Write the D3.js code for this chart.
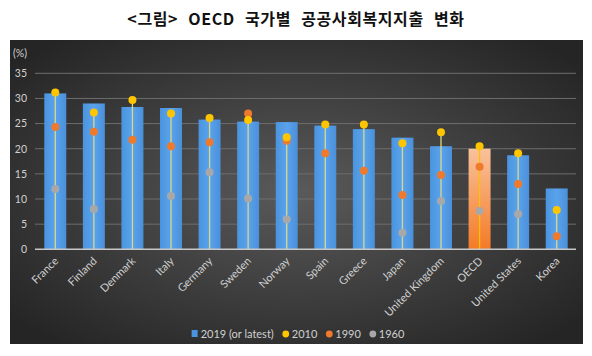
<!DOCTYPE html>
<html><head><meta charset="utf-8">
<script src="https://cdn.jsdelivr.net/npm/d3@7"></script>
<style>body{margin:0;background:#fff}svg{display:block}</style>
</head><body><svg id="c" width="592" height="356"></svg>
<script>
const categories = ["France","Finland","Denmark","Italy","Germany","Sweden","Norway","Spain","Greece","Japan","United Kingdom","OECD","United States","Korea"];
const v2019 = [31.0,29.0,28.3,28.1,25.8,25.4,25.3,24.6,23.9,22.2,20.5,20.0,18.7,12.1];
const v2010 = [31.2,27.2,29.7,27.0,26.1,25.7,22.3,24.8,24.8,21.1,23.3,20.5,19.1,7.8];
const v1990 = [24.3,23.4,21.8,20.5,21.3,27.0,21.6,19.1,15.6,10.8,14.8,16.4,13.0,2.6];
const v1960 = [12.0,8.0,null,10.6,15.3,10.1,6.0,null,null,3.3,9.6,7.6,7.0,null];
const yTicks = [0,5,10,15,20,25,30,35];
const legendLabels = ["2019 (or latest)","2010","1990","1960"];

const svg = d3.select("#c");
const defs = svg.append("defs");
const bg = defs.append("radialGradient").attr("id","bg").attr("cx","50%").attr("cy","50%").attr("r","65%");
bg.append("stop").attr("offset","0%").attr("stop-color","#5a5a5a");
bg.append("stop").attr("offset","100%").attr("stop-color","#252525");
const gb = defs.append("linearGradient").attr("id","gb").attr("x1",0).attr("x2",1).attr("y1",0).attr("y2",0);
gb.append("stop").attr("offset","0%").attr("stop-color","#4a93de");
gb.append("stop").attr("offset","50%").attr("stop-color","#5aa3ec");
gb.append("stop").attr("offset","100%").attr("stop-color","#4a8fd9");
const go = defs.append("linearGradient").attr("id","go").attr("x1",0).attr("x2",0).attr("y1",0).attr("y2",1);
go.append("stop").attr("offset","0%").attr("stop-color","#f9c29c");
go.append("stop").attr("offset","100%").attr("stop-color","#f47a26");

// title
svg.append("text").attr("x",296).attr("y",25).attr("text-anchor","middle")
  .attr("font-family","'Noto Sans CJK KR'").attr("font-weight","bold").attr("font-size",16).attr("fill","#111")
  .attr("word-spacing",6).attr("letter-spacing",0.6)
  .text("<그림> OECD 국가별 공공사회복지지출 변화");

// panel
svg.append("rect").attr("x",10).attr("y",40).attr("width",573).attr("height",304).attr("fill","url(#bg)");

const x = d3.scaleBand().domain(categories).range([36,576]).paddingInner(0.43).paddingOuter(0.215);
const y = d3.scaleLinear().domain([0,35]).range([249.3,73.3]);

// grid
svg.append("g").selectAll("line").data(yTicks.filter(d=>d>0)).join("line")
  .attr("x1",35).attr("x2",576).attr("y1",d=>y(d)).attr("y2",d=>y(d))
  .attr("stroke","#6e6e6e").attr("stroke-width",1);

// y axis labels
const ya = svg.append("g").attr("transform","translate(27,0)")
  .call(d3.axisLeft(y).tickValues(yTicks).tickSize(0).tickPadding(0));
ya.select(".domain").remove();
ya.selectAll("text").attr("font-family","Lato").attr("font-size",10.5).attr("fill","#d0d0d0");
svg.append("text").attr("x",13).attr("y",57).attr("font-family","Lato").attr("font-size",10.5).attr("fill","#d0d0d0").text("(%)");

// bars
svg.append("g").selectAll("rect").data(categories).join("rect")
  .attr("x",d=>x(d)).attr("width",x.bandwidth())
  .attr("y",(d,i)=>y(v2019[i])).attr("height",(d,i)=>y(0)-y(v2019[i]))
  .attr("fill",d=>d==="OECD"?"url(#go)":"url(#gb)");

// high-low lines
svg.append("g").selectAll("line").data(categories).join("line")
  .attr("x1",d=>x(d)+x.bandwidth()/2).attr("x2",d=>x(d)+x.bandwidth()/2)
  .attr("y1",y(0))
  .attr("y2",(d,i)=>y(d3.max([v2010[i],v1990[i],v1960[i]].filter(v=>v!=null))))
  .attr("stroke",d=>d==="OECD"?"#ffc000":"#d8d88a").attr("stroke-width",1.3);

// baseline
svg.append("line").attr("x1",35).attr("x2",576).attr("y1",y(0)).attr("y2",y(0))
  .attr("stroke","#c8c8c8").attr("stroke-width",1.6);

// dots
const series = [[v1960,"#a8a8a8"],[v1990,"#f07a2c"],[v2010,"#ffc600"]];
series.forEach(([vals,col])=>{
  svg.append("g").selectAll("circle").data(categories.map((c,i)=>[c,vals[i]]).filter(d=>d[1]!=null)).join("circle")
    .attr("cx",d=>x(d[0])+x.bandwidth()/2).attr("cy",d=>y(d[1])).attr("r",4)
    .attr("fill",col);
});

// x labels
svg.append("g").selectAll("text").data(categories).join("text")
  .attr("transform",d=>`translate(${x(d)+x.bandwidth()/2+1},259) rotate(-45)`)
  .attr("text-anchor","end").attr("dy","0.35em")
  .attr("font-family","Lato").attr("font-size",11).attr("fill","#d0d0d0")
  .text(d=>d);

// legend (laid out sequentially from measured text widths)
const lg = svg.append("g").attr("font-family","Lato").attr("font-size",11).attr("fill","#d0d0d0");
const colors = ["#4a93de","#ffc600","#f07a2c","#a8a8a8"];
let cx = 207;
legendLabels.forEach((lab,k)=>{
  if(k===0) lg.append("rect").attr("x",cx).attr("y",330).attr("width",6).attr("height",7).attr("fill",colors[k]);
  else lg.append("circle").attr("cx",cx+3).attr("cy",334).attr("r",3.4).attr("fill",colors[k]);
  const t = lg.append("text").attr("x",cx+9).attr("y",338).text(lab);
  cx = cx + 9 + t.node().getComputedTextLength() + 9;
});
// center the legend under the plot
const lw = cx - 9 - 207;
lg.attr("transform",`translate(${(298 - lw/2) - 207},0)`);
</script></body></html>
